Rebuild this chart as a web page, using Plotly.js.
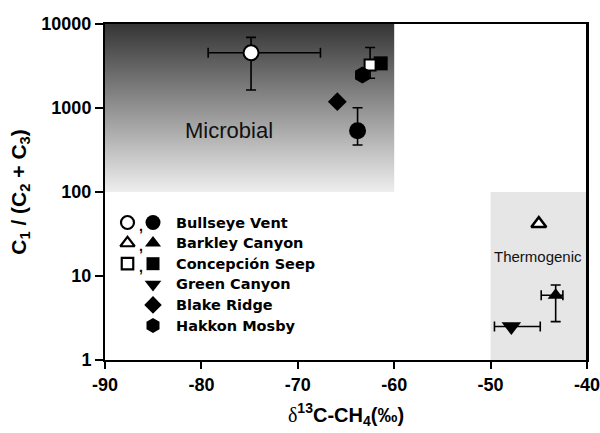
<!DOCTYPE html>
<html>
<head>
<meta charset="utf-8">
<script src="https://cdn.plot.ly/plotly-3.0.1.min.js"></script>
<style>html,body{margin:0;padding:0;background:#fff;}#chart{width:600px;height:433px;}</style>
</head>
<body>
<div id="chart"></div>
<script>
// ---- data ----
const xTicks = [-90, -80, -70, -60, -50, -40];
const xTickText = ['-90', '-80', '-70', '-60', '-50', '-40'];
const yTicks = [1, 10, 100, 1000, 10000];
const yTickText = ['1', '10', '100', '1000', '10000'];

// Microbial field (x: d13C, y: C1/(C2+C3))
const microbialX = [-90, -60, -60, -90, -90];
const microbialY = [100, 100, 10000, 10000, 100];
// Thermogenic field
const thermoX = [-50, -40];
const thermoY = [1, 100];

// Bullseye Vent
const bullOpenX = [-74.85], bullOpenY = [4550];
const bullOpenXErrP = [7.2], bullOpenXErrM = [4.45];
const bullOpenYErrP = [2380], bullOpenYErrM = [2913];
const bullFillX = [-63.8], bullFillY = [535];
const bullFillYErrP = [470], bullFillYErrM = [172];
// Blake Ridge
const blakeX = [-65.9], blakeY = [1190];
// Concepción Seep
const concFillX = [-61.4], concFillY = [3400];
const concOpenX = [-62.5], concOpenY = [3250];
const concOpenYErrP = [2000], concOpenYErrM = [990];
// Hakkon Mosby
const hakkonX = [-63.3], hakkonY = [2470];
// Barkley Canyon
const barkOpenX = [-45.0], barkOpenY = [42];
const barkFillX = [-43.25], barkFillY = [5.9];
const barkFillXErrP = [0.75], barkFillXErrM = [1.5];
const barkFillYErrP = [1.9], barkFillYErrM = [3.04];
// Green Canyon
const greenX = [-47.85], greenY = [2.5];
const greenXErrP = [3.0], greenXErrM = [1.75];

// Legend
const legendNames = ['Bullseye Vent', 'Barkley Canyon', 'Concepción Seep', 'Green Canyon', 'Blake Ridge', 'Hakkon Mosby'];
const legendOpenSymbols = ['circle', 'triangle-up', 'square'];
const legendFillSymbols = ['circle', 'triangle-up', 'square', 'triangle-down', 'diamond', 'hexagon'];

// ---- layout constants (pixel frame of the legend overlay) ----
const M = {l: 105, r: 13, t: 24, b: 73};
const L = {plotLeft: M.l, plotRight: 600 - M.r, plotTop: M.t, plotBottom: 433 - M.b,
  row0: 222.5, rowStep: 20.6, openX: 127.5, commaX: 140.5, fillX: 153, textX: 173.5};

const ink = '#000';
const errStyle = {color: ink, thickness: 1.6, width: 5};

const traces = [];
traces.push({x: microbialX, y: microbialY, mode: 'lines', line: {width: 0}, fill: 'toself',
  fillgradient: {type: 'vertical', colorscale: [[0, '#eeeeee'], [1, '#353535']]},
  hoverinfo: 'skip', showlegend: false});

function pt(x, y, marker, ex, ey) {
  const t = {x: x, y: y, mode: 'markers', marker: Object.assign({opacity: 1}, marker), showlegend: false, hoverinfo: 'skip', cliponaxis: false};
  if (ex) t.error_x = Object.assign({type: 'data', symmetric: false, array: ex[0], arrayminus: ex[1]}, errStyle);
  if (ey) t.error_y = Object.assign({type: 'data', symmetric: false, array: ey[0], arrayminus: ey[1]}, errStyle);
  return t;
}
traces.push(pt(bullOpenX, bullOpenY, {symbol: 'circle', size: 15, color: '#fff', line: {color: ink, width: 2}},
  [bullOpenXErrP, bullOpenXErrM], [bullOpenYErrP, bullOpenYErrM]));
traces.push(pt(bullFillX, bullFillY, {symbol: 'circle', size: 17, color: ink}, null, [bullFillYErrP, bullFillYErrM]));
traces.push(pt(blakeX, blakeY, {symbol: 'diamond', size: 14.5, color: ink}));
traces.push(pt(concFillX, concFillY, {symbol: 'square', size: 14, color: ink}));
traces.push(pt(concOpenX, concOpenY, {symbol: 'square', size: 11, color: '#fff', line: {color: ink, width: 2}},
  null, [concOpenYErrP, concOpenYErrM]));
traces.push(pt(hakkonX, hakkonY, {symbol: 'hexagon', size: 17, color: ink}));
traces.push(pt(barkOpenX, barkOpenY, {symbol: 'triangle-up', size: 13, color: '#fff', line: {color: ink, width: 2.5}}));
traces.push(pt(barkFillX, barkFillY, {symbol: 'triangle-up', size: 14, color: ink},
  [barkFillXErrP, barkFillXErrM], [barkFillYErrP, barkFillYErrM]));
traces.push(pt(greenX, greenY, {symbol: 'triangle-down', size: 17, color: ink}, [greenXErrP, greenXErrM]));

// legend symbols on an overlay axis pair measured in pixels
const lgX = [], lgY = [], lgSym = [], lgSize = [], lgCol = [], lgLw = [];
const openSizes = [13, 12.5, 11.5];
const fillSizes = [15, 14, 13, 14.5, 13.5, 15];
legendNames.forEach((n, i) => {
  const y = L.row0 + i * L.rowStep;
  if (i < legendOpenSymbols.length) {
    lgX.push(L.openX); lgY.push(y); lgSym.push(legendOpenSymbols[i]); lgSize.push(openSizes[i]); lgCol.push('#fff'); lgLw.push(2.2);
  }
  lgX.push(L.fillX); lgY.push(y); lgSym.push(legendFillSymbols[i]); lgSize.push(fillSizes[i]); lgCol.push(ink); lgLw.push(0);
});
traces.push({x: lgX, y: lgY, xaxis: 'x2', yaxis: 'y2', mode: 'markers', showlegend: false, hoverinfo: 'skip',
  marker: {symbol: lgSym, size: lgSize, color: lgCol, opacity: 1, line: {color: ink, width: lgLw}}});

const annotations = [
  {x: -77.1, y: Math.log10(547), xref: 'x', yref: 'y', text: 'Microbial', showarrow: false,
   font: {family: 'Liberation Sans, Arial', size: 22, color: '#111'}},
  {x: -45.05, y: Math.log10(17), xref: 'x', yref: 'y', text: 'Thermogenic', showarrow: false,
   font: {family: 'Liberation Sans, Arial', size: 15, color: '#111'}}
];
legendNames.forEach((n, i) => {
  const y = L.row0 + i * L.rowStep;
  annotations.push({x: L.textX, y: y, xref: 'x2', yref: 'y2', text: n, showarrow: false, xanchor: 'left',
    font: {family: 'DejaVu Sans', size: 14.5, weight: 'bold', color: ink}});
  if (i < legendOpenSymbols.length) {
    annotations.push({x: L.commaX, y: y + 3, xref: 'x2', yref: 'y2', text: ',', showarrow: false,
      font: {family: 'Liberation Sans, Arial', size: 14, weight: 'bold', color: ink}});
  }
});

const tickFont = {family: 'Liberation Sans, Arial', size: 18, weight: 'bold', color: ink};
const layout = {
  width: 600, height: 433,
  margin: M,
  paper_bgcolor: '#fff', plot_bgcolor: '#fff',
  showlegend: false,
  xaxis: {range: [-90, -40], tickvals: xTicks, ticktext: xTickText, ticks: 'outside', ticklen: 7, tickwidth: 2, tickcolor: ink,
    showline: true, linewidth: 2, linecolor: ink, mirror: true, showgrid: false, zeroline: false,
    tickfont: tickFont, fixedrange: true, ticklabeloverflow: 'allow',
    title: {text: "<span style='font-family:Liberation Serif;font-weight:normal'>δ</span><sup>13</sup>C-CH<sub>4</sub>(‰)",
      font: {family: 'Liberation Sans, Arial', size: 20, weight: 'bold', color: ink}, standoff: 14}},
  yaxis: {type: 'log', range: [0, 4], tickvals: yTicks, ticktext: yTickText, ticks: 'outside', ticklen: 8, tickwidth: 2, tickcolor: ink,
    showline: true, linewidth: 2, linecolor: ink, mirror: true, showgrid: false, zeroline: false,
    tickfont: tickFont, fixedrange: true,
    title: {text: 'C<sub>1</sub> / (C<sub>2</sub> + C<sub>3</sub>)',
      font: {family: 'Liberation Sans, Arial', size: 21, weight: 'bold', color: ink}, standoff: 9}},
  xaxis2: {overlaying: 'x', anchor: 'y2', range: [L.plotLeft, L.plotRight], visible: false, fixedrange: true},
  yaxis2: {overlaying: 'y', anchor: 'x2', range: [L.plotBottom, L.plotTop], visible: false, fixedrange: true},
  shapes: [
    {type: 'rect', xref: 'x', yref: 'y', x0: thermoX[0], x1: thermoX[1], y0: thermoY[0], y1: thermoY[1],
      fillcolor: '#e6e6e6', line: {width: 0}, layer: 'below'},
    {type: 'line', xref: 'x', yref: 'paper', x0: -40, x1: -40, y0: 0, y1: 1, line: {color: ink, width: 2}, layer: 'above'}
  ],
  annotations: annotations
};

Plotly.newPlot('chart', traces, layout, {staticPlot: true, displayModeBar: false});
</script>
</body>
</html>
